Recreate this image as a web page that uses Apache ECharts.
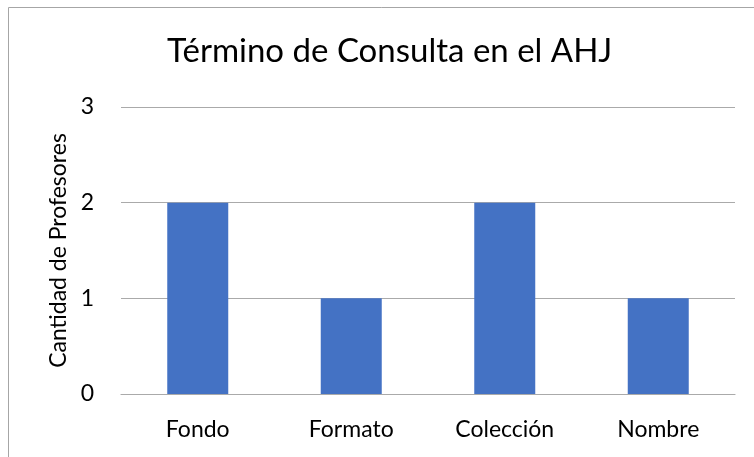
<!DOCTYPE html>
<html>
<head>
<meta charset="utf-8">
<script src="https://cdn.jsdelivr.net/npm/echarts@6/dist/echarts.min.js"></script>
<style>
  html, body { margin: 0; padding: 0; background: #fff; }
  #chart { width: 754px; height: 457px; }
</style>
</head>
<body>
<div id="chart"></div>
<script>
// Consultation terms used at the AHJ, by number of teachers
const categories = ['Fondo', 'Formato', 'Colección', 'Nombre'];
const teacherCounts = [2, 1, 2, 1];
const yTicks = [0, 1, 2, 3];

const FONT = 'Lato, "Open Sans", sans-serif';

const chart = echarts.init(document.getElementById('chart'), null, { renderer: 'canvas' });
chart.setOption({
  animation: false,
  backgroundColor: '#ffffff',
  title: {
    text: 'Término de Consulta en el AHJ',
    left: 162,
    top: 30,
    textStyle: { fontFamily: FONT, fontSize: 33, fontWeight: 'normal', color: '#000' }
  },
  graphic: [{
    type: 'rect',
    shape: { x: 8.5, y: 7.5, width: 800, height: 500 },
    style: { fill: 'none', stroke: '#a6a6a6', lineWidth: 1 },
    silent: true
  }],
  grid: { left: 121, right: 19, top: 107, bottom: 63, containLabel: false },
  xAxis: {
    type: 'category',
    data: categories,
    axisLine: { show: true, lineStyle: { color: '#aaaaaa', width: 1.2 } },
    axisTick: { show: false },
    axisLabel: { fontFamily: FONT, fontSize: 23, color: '#000', margin: 24 }
  },
  yAxis: {
    type: 'value',
    min: yTicks[0],
    max: yTicks[yTicks.length - 1],
    interval: 1,
    name: 'Cantidad de Profesores',
    nameLocation: 'middle',
    nameGap: 50,
    nameRotate: 90,
    nameTextStyle: { fontFamily: FONT, fontSize: 23, color: '#000' },
    axisLine: { show: false },
    axisTick: { show: false },
    axisLabel: { fontFamily: FONT, fontSize: 23, color: '#000', margin: 27 },
    splitLine: { lineStyle: { color: '#aaaaaa', width: 1.2 } }
  },
  series: [{
    type: 'bar',
    data: teacherCounts,
    barWidth: 61,
    itemStyle: { color: '#4472c4' }
  }]
});
</script>
</body>
</html>
